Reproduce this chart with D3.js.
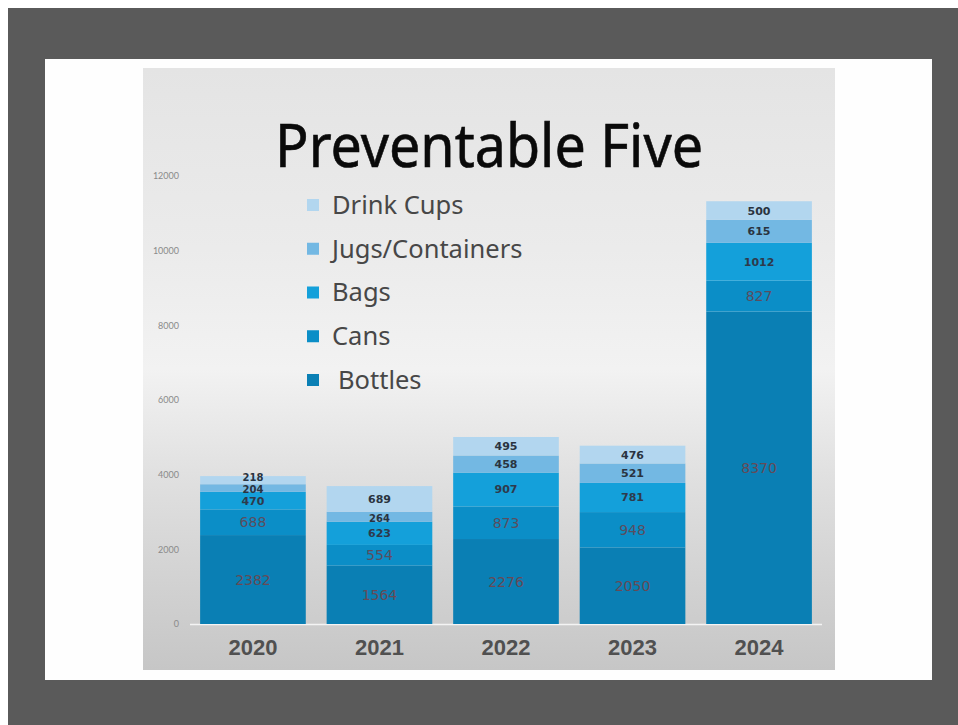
<!DOCTYPE html>
<html>
<head>
<meta charset="utf-8">
<title>Preventable Five</title>
<script src="https://d3js.org/d3.v7.min.js"></script>
<style>
  body { margin: 0; background: #fff; }
  svg { display: block; }
</style>
</head>
<body>
<svg width="958" height="725"></svg>
<script>
// values, bottom of the stack first
var years = ["2020", "2021", "2022", "2023", "2024"];
var seriesNames = ["Bottles", "Cans", "Bags", "Jugs/Containers", "Drink Cups"];
var bottles = [2382, 1564, 2276, 2050, 8370];
var cans = [688, 554, 873, 948, 827];
var bags = [470, 623, 907, 781, 1012];
var jugs = [204, 264, 458, 521, 615];
var cups = [218, 689, 495, 476, 500];
var yTicks = [0, 2000, 4000, 6000, 8000, 10000, 12000];

var colors = ["#0a7fb4", "#0b8ec7", "#14a0da", "#73b8e3", "#b2d6ef"];
var labelColors = ["#7d3d3f", "#6e3d45", "#2e3a4c", "#2a3340", "#2a3340"];

var svg = d3.select("svg");

// page frame like the screenshot
svg.append("rect").attr("x", 0).attr("y", 0).attr("width", 958).attr("height", 725).attr("fill", "#fff");
svg.append("rect").attr("x", 8).attr("y", 8).attr("width", 950).attr("height", 717).attr("fill", "#5a5a5a");
svg.append("rect").attr("x", 45).attr("y", 59).attr("width", 887).attr("height", 621).attr("fill", "#fefefe");

var defs = svg.append("defs");
var bg = defs.append("linearGradient").attr("id", "bg").attr("x1", 0).attr("y1", 0).attr("x2", 0).attr("y2", 1);
bg.append("stop").attr("offset", "0%").attr("stop-color", "#e4e4e4");
bg.append("stop").attr("offset", "30%").attr("stop-color", "#ebebeb");
bg.append("stop").attr("offset", "50%").attr("stop-color", "#f2f2f2");
bg.append("stop").attr("offset", "68%").attr("stop-color", "#e0e0e0");
bg.append("stop").attr("offset", "100%").attr("stop-color", "#c6c6c6");

svg.append("rect").attr("x", 143).attr("y", 68).attr("width", 692).attr("height", 602).attr("fill", "url(#bg)");

var margin = {top: 176, left: 190, right: 822, bottom: 624};

var x = d3.scaleBand().domain(years).range([margin.left, margin.right]).paddingInner(0.165).paddingOuter(0.08);
var y = d3.scaleLinear().domain([0, 12000]).range([margin.bottom, margin.top]);

var table = years.map(function(yr, i) {
  return {year: yr, "Bottles": bottles[i], "Cans": cans[i], "Bags": bags[i],
          "Jugs/Containers": jugs[i], "Drink Cups": cups[i]};
});
var stacked = d3.stack().keys(seriesNames)(table);

// y axis
var yAxis = d3.axisLeft(y).tickValues(yTicks).tickSize(0).tickPadding(0).tickFormat(d3.format("d"));
var ya = svg.append("g").attr("transform", "translate(179,0)").call(yAxis);
ya.select(".domain").remove();
ya.selectAll("text").attr("font-family", "Lato, sans-serif").attr("font-size", 9).attr("fill", "#8a8a8a");

// baseline
svg.append("line").attr("x1", margin.left).attr("x2", margin.right)
  .attr("y1", y(0) + 0.5).attr("y2", y(0) + 0.5).attr("stroke", "#f4f4f4").attr("stroke-width", 1.5);

// bars
var layers = svg.append("g").selectAll("g").data(stacked).join("g")
  .attr("fill", function(d, i) { return colors[i]; });
layers.selectAll("rect").data(function(d) { return d; }).join("rect")
  .attr("x", function(d) { return x(d.data.year); })
  .attr("y", function(d) { return y(d[1]); })
  .attr("width", x.bandwidth())
  .attr("height", function(d) { return y(d[0]) - y(d[1]); });

// value labels; thin top segments get nudged apart so they don't collide
var lab = svg.append("g").selectAll("g").data(stacked).join("g");
lab.each(function(s, si) {
  d3.select(this).selectAll("text").data(s).join("text")
    .attr("x", function(d) { return x(d.data.year) + x.bandwidth() / 2; })
    .attr("y", function(d) {
      var mid = (y(d[0]) + y(d[1])) / 2;
      var h = y(d[0]) - y(d[1]);
      if (h < 10 && si === 4) mid -= 2.5;
      if (h < 10 && si === 3) mid += 1.5;
      return mid;
    })
    .attr("dy", "0.36em")
    .attr("text-anchor", "middle")
    .attr("font-family", "'DejaVu Sans', sans-serif")
    .attr("font-size", function(d) {
      if (si < 2) return 14;
      return (y(d[0]) - y(d[1])) < 10 ? 10 : 11;
    })
    .attr("font-weight", si < 2 ? "normal" : "bold")
    .attr("fill", labelColors[si])
    .attr("opacity", si < 2 ? 0.8 : 1)
    .text(function(d) { return d[1] - d[0]; });
});

// x axis labels
var xAxis = d3.axisBottom(x).tickSize(0).tickPadding(15);
var xa = svg.append("g").attr("transform", "translate(0," + y(0) + ")").call(xAxis);
xa.select(".domain").remove();
xa.selectAll("text").attr("font-family", "'Liberation Sans', Arial, sans-serif")
  .attr("font-size", 22).attr("font-weight", "bold").attr("fill", "#505050");

// title
svg.append("text").attr("x", 489).attr("y", 167).attr("text-anchor", "middle")
  .attr("font-family", "'Noto Sans', sans-serif").attr("font-size", 60)
  .attr("textLength", 428).attr("lengthAdjust", "spacingAndGlyphs")
  .attr("fill", "#0a0a0a").attr("stroke", "#0a0a0a").attr("stroke-width", 0.6)
  .text("Preventable Five");

// legend, top item first
var legendItems = seriesNames.slice().reverse();
var ly = d3.scalePoint().domain(legendItems).range([205, 380]);
var leg = svg.append("g").selectAll("g").data(legendItems).join("g")
  .attr("transform", function(d) { return "translate(0," + ly(d) + ")"; });
leg.append("rect").attr("x", 307).attr("y", -6).attr("width", 12).attr("height", 12)
  .attr("fill", function(d) { return colors[seriesNames.indexOf(d)]; });
leg.append("text").attr("x", function(d) { return d === "Bottles" ? 338 : 332; }).attr("dy", "0.35em")
  .attr("font-family", "'Noto Sans', sans-serif").attr("font-size", 25.5).attr("fill", "#474747")
  .text(function(d) { return d; });
</script>
</body>
</html>
